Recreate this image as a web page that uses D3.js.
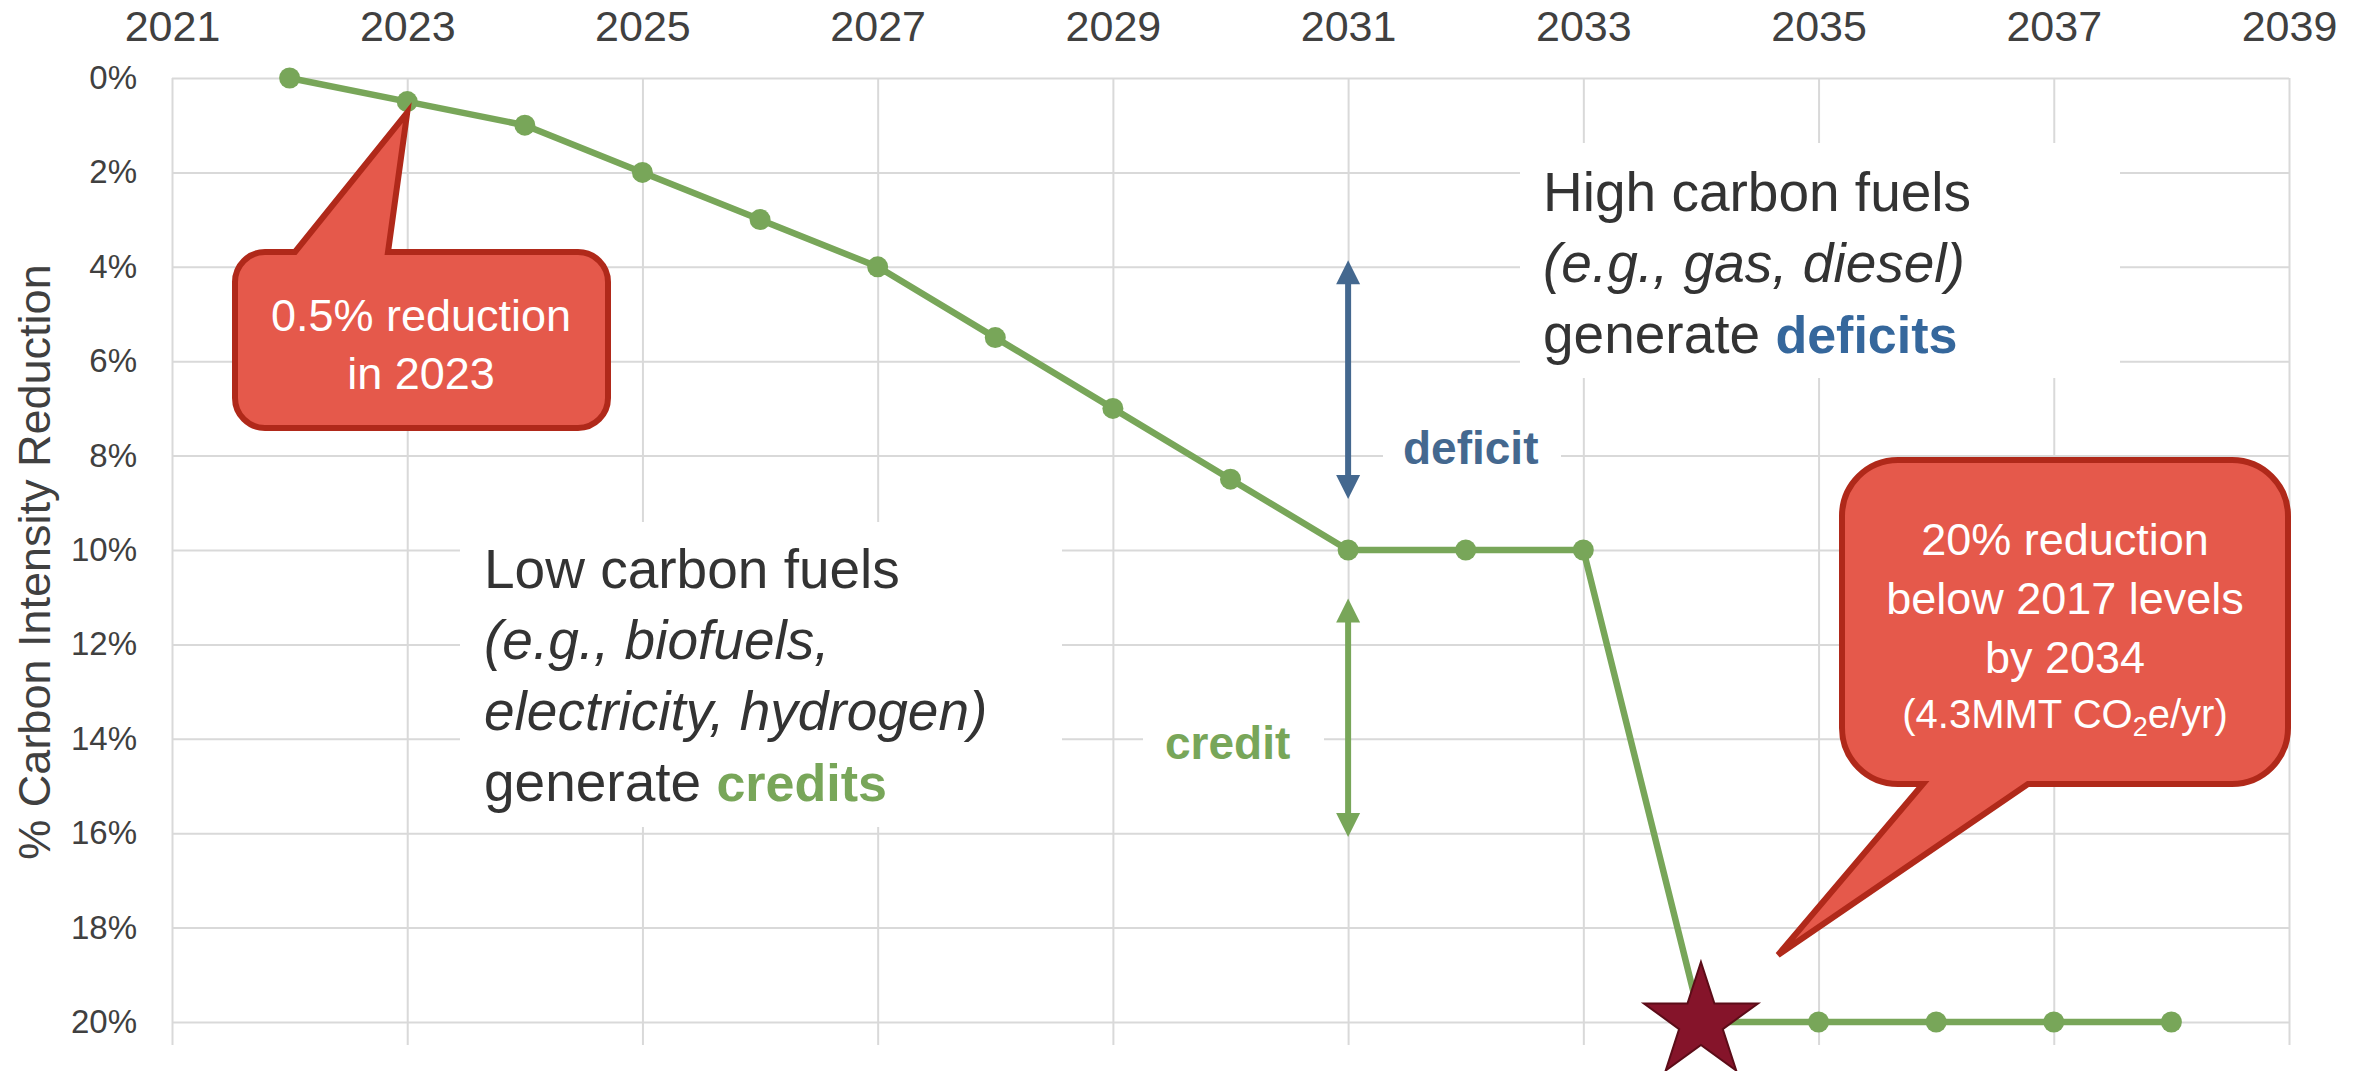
<!DOCTYPE html>
<html>
<head>
<meta charset="utf-8">
<script src="https://cdn.jsdelivr.net/npm/d3@7"></script>
<style>
    body { margin: 0; background: #fff; }
    svg { display: block; }
    text { font-family: "Liberation Sans", Arial, sans-serif; }
</style>
</head>
<body>
<svg id="canvas" width="2366" height="1071"></svg>
<script>
// chart values
const years = [2022, 2023, 2024, 2025, 2026, 2027, 2028, 2029, 2030, 2031, 2032, 2033, 2034, 2035, 2036, 2037, 2038]
const reduction = [0, 0.5, 1, 2, 3, 4, 5.5, 7, 8.5, 10, 10, 10, 20, 20, 20, 20, 20]
const yearTicks = [2021, 2023, 2025, 2027, 2029, 2031, 2033, 2035, 2037, 2039]
const pctTicks = [0, 2, 4, 6, 8, 10, 12, 14, 16, 18, 20]
const targetYear = 2034
const arrowYear = 2031
const deficitSpan = [3.86, 8.92]
const creditSpan = [11.03, 16.08]

const lowLines = ['Low carbon fuels', '(e.g., biofuels,', 'electricity, hydrogen)']
const highLines = ['High carbon fuels', '(e.g., gas, diesel)']
const callout1Lines = ['0.5% reduction', 'in 2023']
const callout2Lines = ['20% reduction', 'below 2017 levels', 'by 2034']

const green = '#78a659'
const blue = '#44688f'
const textColor = '#333333'
const gridColor = '#d9d9d9'

let canvas = d3.select('#canvas')

let x = d3.scaleLinear().domain([2021, 2039]).range([172, 2289])
let y = d3.scaleLinear().domain([0, 20]).range([78, 1022])

let styleAxis = (g, size) => {
    g.select('.domain').remove()
    g.selectAll('line').attr('stroke', gridColor).attr('stroke-width', 2)
    g.selectAll('text')
        .attr('font-size', size)
        .attr('fill', '#404040')
        .attr('font-family', '"Liberation Sans", Arial, sans-serif')
}

// top axis with vertical gridlines
canvas.append('g')
    .attr('transform', `translate(0,${y(0)})`)
    .call(d3.axisTop(x).tickValues(yearTicks).tickFormat(d3.format('d'))
        .tickSize(-(y(20) + 23 - y(0))).tickPadding(37))
    .call(g => styleAxis(g, 43))

// left axis with horizontal gridlines
canvas.append('g')
    .attr('transform', `translate(${x(2021)},0)`)
    .call(d3.axisLeft(y).tickValues(pctTicks).tickFormat(d => d + '%')
        .tickSize(-(x(2039) - x(2021))).tickPadding(35))
    .call(g => styleAxis(g, 33))

// y axis title
canvas.append('text')
    .attr('transform', 'translate(50,562) rotate(-90)')
    .attr('text-anchor', 'middle')
    .attr('font-size', 45)
    .attr('fill', '#404040')
    .text('% Carbon Intensity Reduction')

// white backgrounds behind text blocks
let boxes = [
    [460, 522, 1062, 827],
    [1520, 143, 2120, 378],
    [1383, 425, 1561, 480],
    [1143, 712, 1324, 770]
]
canvas.selectAll('rect.bg')
    .data(boxes)
    .enter()
    .append('rect')
    .attr('class', 'bg')
    .attr('x', d => d[0]).attr('y', d => d[1])
    .attr('width', d => d[2] - d[0]).attr('height', d => d[3] - d[1])
    .attr('fill', '#fff')

// series line
let points = years.map((yr, i) => [yr, reduction[i]])
canvas.append('path')
    .datum(points)
    .attr('d', d3.line().x(d => x(d[0])).y(d => y(d[1])))
    .attr('fill', 'none')
    .attr('stroke', green)
    .attr('stroke-width', 6.5)
    .attr('stroke-linejoin', 'round')

canvas.selectAll('circle.pt')
    .data(points.filter(d => d[0] !== targetYear))
    .enter()
    .append('circle')
    .attr('class', 'pt')
    .attr('cx', d => x(d[0]))
    .attr('cy', d => y(d[1]))
    .attr('r', 10.5)
    .attr('fill', green)

// double-headed arrows
let drawArrow = (span, color) => {
    let ax = x(arrowYear)
    let top = y(span[0])
    let bottom = y(span[1])
    let head = 24, half = 12
    canvas.append('line')
        .attr('x1', ax).attr('x2', ax)
        .attr('y1', top + head - 2).attr('y2', bottom - head + 2)
        .attr('stroke', color).attr('stroke-width', 6)
    canvas.append('path')
        .attr('d', `M${ax},${top} L${ax + half},${top + head} L${ax - half},${top + head} Z`)
        .attr('fill', color)
    canvas.append('path')
        .attr('d', `M${ax},${bottom} L${ax + half},${bottom - head} L${ax - half},${bottom - head} Z`)
        .attr('fill', color)
}
drawArrow(deficitSpan, blue)
drawArrow(creditSpan, green)

canvas.append('text')
    .attr('x', 1403).attr('y', 464)
    .attr('font-size', 46).attr('font-weight', 'bold')
    .attr('fill', blue)
    .text('deficit')

canvas.append('text')
    .attr('x', 1165).attr('y', 759)
    .attr('font-size', 46).attr('font-weight', 'bold')
    .attr('fill', green)
    .text('credit')

// text blocks
let low = canvas.append('text')
    .attr('font-size', 55)
    .attr('fill', textColor)
lowLines.forEach((line, i) => {
    low.append('tspan')
        .attr('x', 484).attr('y', 588 + i * 71)
        .attr('font-style', i > 0 ? 'italic' : 'normal')
        .text(line)
})
low.append('tspan').attr('x', 484).attr('y', 588 + 3 * 71).text('generate ')
low.append('tspan').attr('font-weight', 'bold').attr('font-size', 52).attr('fill', green).text('credits')

let high = canvas.append('text')
    .attr('font-size', 55)
    .attr('fill', textColor)
highLines.forEach((line, i) => {
    high.append('tspan')
        .attr('x', 1543).attr('y', 211 + i * 71)
        .attr('font-style', i > 0 ? 'italic' : 'normal')
        .text(line)
})
high.append('tspan').attr('x', 1543).attr('y', 211 + 2 * 71).text('generate ')
high.append('tspan').attr('font-weight', 'bold').attr('font-size', 52).attr('fill', '#35679c').text('deficits')

// callouts
let calloutPath = (x0, y0, x1, y1, r, side, b1, b2, tx, ty) => {
    let p = d3.path()
    p.moveTo(x0 + r, y0)
    if (side === 'top') {
        p.lineTo(b1, y0); p.lineTo(tx, ty); p.lineTo(b2, y0)
    }
    p.lineTo(x1 - r, y0)
    p.arcTo(x1, y0, x1, y0 + r, r)
    p.lineTo(x1, y1 - r)
    p.arcTo(x1, y1, x1 - r, y1, r)
    if (side === 'bottom') {
        p.lineTo(b2, y1); p.lineTo(tx, ty); p.lineTo(b1, y1)
    }
    p.lineTo(x0 + r, y1)
    p.arcTo(x0, y1, x0, y1 - r, r)
    p.lineTo(x0, y0 + r)
    p.arcTo(x0, y0, x0 + r, y0, r)
    p.closePath()
    return p.toString()
}

canvas.append('path')
    .attr('d', calloutPath(235, 252, 608, 428, 30, 'top', 295, 388, x(2023), y(0.5) + 11))
    .attr('fill', '#e5594b')
    .attr('stroke', '#b0291a')
    .attr('stroke-width', 6)
    .attr('stroke-linejoin', 'miter')

callout1Lines.forEach((line, i) => {
    canvas.append('text')
        .attr('x', 421).attr('y', 331 + i * 58)
        .attr('text-anchor', 'middle')
        .attr('font-size', 45)
        .attr('fill', '#fff')
        .text(line)
})

canvas.append('path')
    .attr('d', calloutPath(1842, 460, 2288, 784, 56, 'bottom', 1923, 2028, 1778, 955))
    .attr('fill', '#e5594b')
    .attr('stroke', '#b0291a')
    .attr('stroke-width', 6)

callout2Lines.forEach((line, i) => {
    canvas.append('text')
        .attr('x', 2065).attr('y', 555 + i * 59)
        .attr('text-anchor', 'middle')
        .attr('font-size', 45)
        .attr('fill', '#fff')
        .text(line)
})
let co2 = canvas.append('text')
    .attr('x', 2065).attr('y', 728)
    .attr('text-anchor', 'middle')
    .attr('font-size', 40)
    .attr('fill', '#fff')
co2.append('tspan').text('(4.3MMT CO')
co2.append('tspan').attr('font-size', 27).attr('dy', 8).text('2')
co2.append('tspan').attr('dy', -8).text('e/yr)')

// target star
canvas.append('path')
    .attr('d', d3.symbol(d3.symbolStar, 4041)())
    .attr('transform', `translate(${x(targetYear)},${y(20)})`)
    .attr('fill', '#85142a')
    .attr('stroke', '#5c0c18')
    .attr('stroke-width', 2)
</script>
</body>
</html>
